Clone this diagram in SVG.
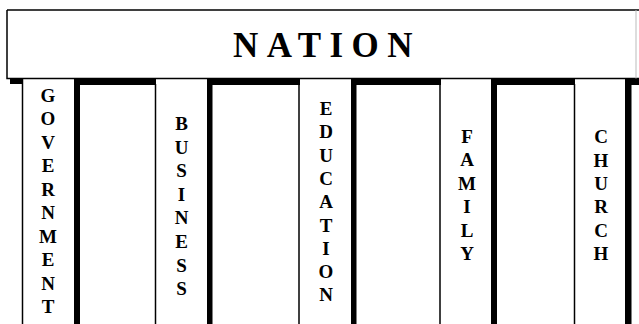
<svg xmlns="http://www.w3.org/2000/svg" width="639" height="324" viewBox="0 0 639 324">
  <style>
    .title { font-family: "Liberation Serif", "Times New Roman", serif; font-weight: bold; font-size: 35px; fill: #000; letter-spacing: 8.4px; }
    .pillar-text { font-family: "Liberation Serif", "Times New Roman", serif; font-weight: bold; font-size: 19px; fill: #000; text-anchor: middle; }
    .thin { stroke: #000; stroke-width: 1.5; fill: none; }
    .thick { fill: #000; }
  </style>
  <rect x="0" y="0" width="639" height="324" fill="#fff"/>

  <g id="nation">
    <path class="thin" d="M7 10 H639 M7 10 V78.5 H639" stroke-width="1.8"/>
    <line x1="636" y1="10" x2="636" y2="78.5" stroke="#bbb" stroke-width="1"/>
    <text class="title" x="233" y="57">NATION</text>
  </g>

  <g id="frame">
    <rect class="thick" x="10" y="79" width="12" height="5"/>
    <rect class="thick" x="74" y="79" width="82" height="6"/>
    <rect class="thick" x="207" y="79" width="93" height="6"/>
    <rect class="thick" x="351" y="79" width="90" height="6"/>
    <rect class="thick" x="491" y="79" width="84" height="6"/>
    <rect class="thick" x="625" y="79" width="14" height="6"/>
    <rect class="thick" x="74" y="79" width="6" height="245"/>
    <rect class="thick" x="207" y="79" width="5.5" height="245"/>
    <rect class="thick" x="351" y="79" width="5.5" height="245"/>
    <rect class="thick" x="491" y="79" width="6" height="245"/>
    <rect class="thick" x="625" y="79" width="6.5" height="245"/>
    <line class="thin" x1="22.5" y1="79" x2="22.5" y2="324"/>
    <line class="thin" x1="155.5" y1="84" x2="155.5" y2="324"/>
    <line class="thin" x1="299" y1="84" x2="299" y2="324"/>
    <line class="thin" x1="440" y1="84" x2="440" y2="324"/>
    <line class="thin" x1="574.5" y1="84" x2="574.5" y2="324"/>
  </g>

  <g id="government">
    <text class="pillar-text">
      <tspan x="48" y="101.7">G</tspan><tspan x="48" dy="23.5">O</tspan><tspan x="48" dy="23.5">V</tspan><tspan x="48" dy="23.5">E</tspan><tspan x="48" dy="23.5">R</tspan><tspan x="48" dy="23.5">N</tspan><tspan x="48" dy="23.5">M</tspan><tspan x="48" dy="23.5">E</tspan><tspan x="48" dy="23.5">N</tspan><tspan x="48" dy="23.5">T</tspan>
    </text>
  </g>

  <g id="business">
    <text class="pillar-text">
      <tspan x="181.5" y="130">B</tspan><tspan x="181.5" dy="23.6">U</tspan><tspan x="181.5" dy="23.6">S</tspan><tspan x="181.5" dy="23.6">I</tspan><tspan x="181.5" dy="23.6">N</tspan><tspan x="181.5" dy="23.6">E</tspan><tspan x="181.5" dy="23.6">S</tspan><tspan x="181.5" dy="23.6">S</tspan>
    </text>
  </g>

  <g id="education">
    <text class="pillar-text">
      <tspan x="326" y="115">E</tspan><tspan x="326" dy="23.3">D</tspan><tspan x="326" dy="23.3">U</tspan><tspan x="326" dy="23.3">C</tspan><tspan x="326" dy="23.3">A</tspan><tspan x="326" dy="23.3">T</tspan><tspan x="326" dy="23.3">I</tspan><tspan x="326" dy="23.3">O</tspan><tspan x="326" dy="23.3">N</tspan>
    </text>
  </g>

  <g id="family">
    <text class="pillar-text">
      <tspan x="467" y="142.7">F</tspan><tspan x="467" dy="23.5">A</tspan><tspan x="467" dy="23.5">M</tspan><tspan x="467" dy="23.5">I</tspan><tspan x="467" dy="23.5">L</tspan><tspan x="467" dy="23.5">Y</tspan>
    </text>
  </g>

  <g id="church">
    <text class="pillar-text">
      <tspan x="601" y="143.3">C</tspan><tspan x="601" dy="23.3">H</tspan><tspan x="601" dy="23.3">U</tspan><tspan x="601" dy="23.3">R</tspan><tspan x="601" dy="23.3">C</tspan><tspan x="601" dy="23.3">H</tspan>
    </text>
  </g>
</svg>
